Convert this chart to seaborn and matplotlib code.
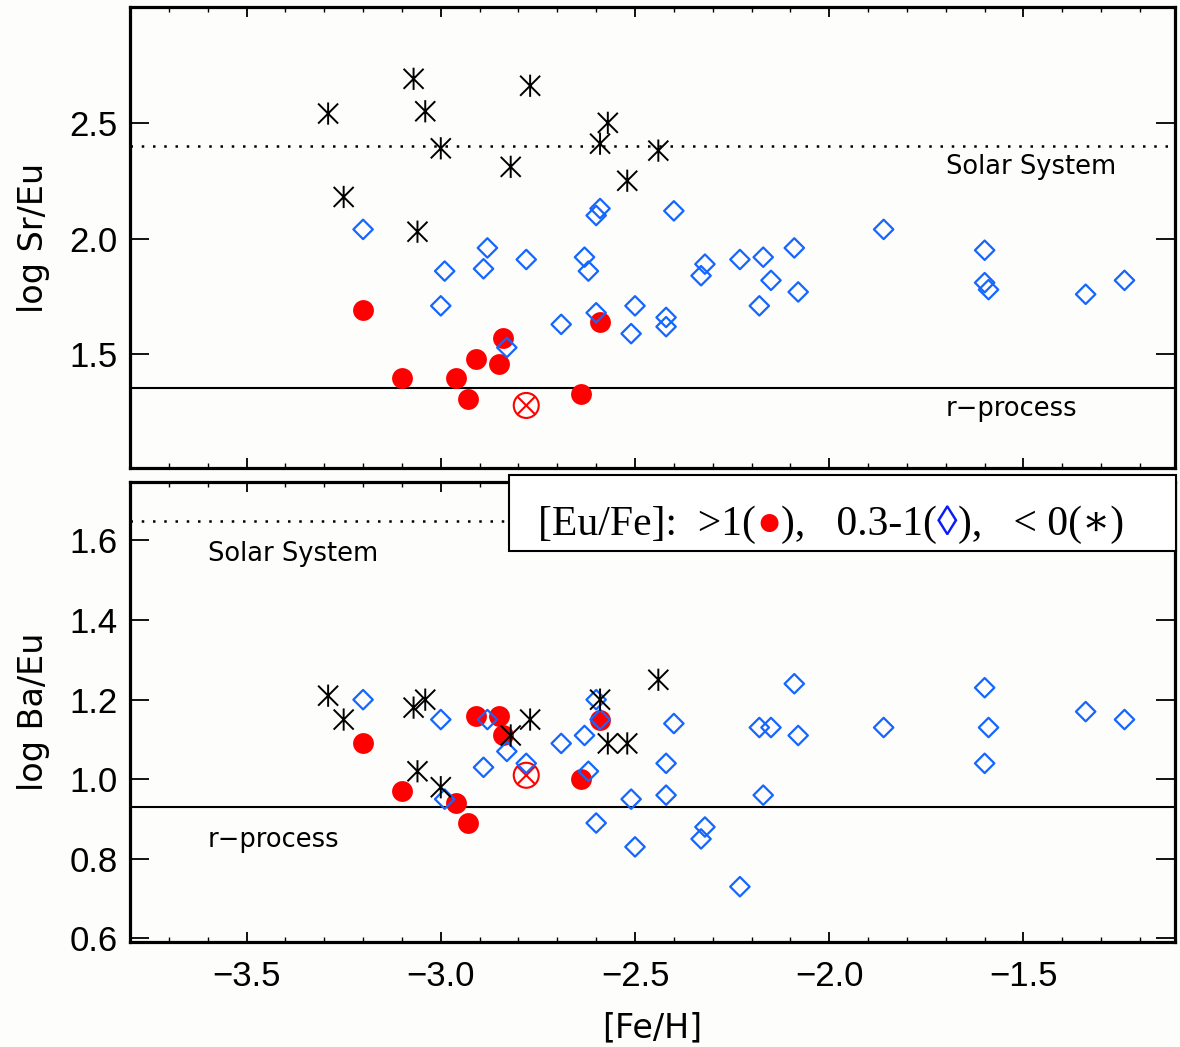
import numpy as np
import pandas as pd
import matplotlib
matplotlib.use("Agg")
import matplotlib.pyplot as plt
import seaborn as sns
from matplotlib.path import Path
from matplotlib.patches import Rectangle
from matplotlib.ticker import MultipleLocator, FixedLocator
from matplotlib.offsetbox import TextArea, HPacker, AnchoredOffsetbox

# ---- top panel: log Sr/Eu vs [Fe/H]
sr_high_feh = [-3.20, -3.10, -2.96, -2.93, -2.91, -2.85, -2.84, -2.64, -2.59]
sr_high = [1.69, 1.40, 1.40, 1.31, 1.48, 1.46, 1.57, 1.33, 1.64]
sr_mid_feh = [-3.20, -2.99, -3.00, -2.88, -2.89, -2.78, -2.83, -2.69, -2.63, -2.62, -2.60,
              -2.60, -2.59, -2.40, -2.50, -2.51, -2.42, -2.42, -2.32, -2.33, -2.23, -2.17,
              -2.15, -2.18, -2.09, -2.08, -1.86, -1.60, -1.60, -1.59, -1.34, -1.24]
sr_mid = [2.04, 1.86, 1.71, 1.96, 1.87, 1.91, 1.53, 1.63, 1.92, 1.86, 1.68,
          2.10, 2.13, 2.12, 1.71, 1.59, 1.66, 1.62, 1.89, 1.84, 1.91, 1.92,
          1.82, 1.71, 1.96, 1.77, 2.04, 1.95, 1.81, 1.78, 1.76, 1.82]
sr_low_feh = [-3.29, -3.07, -3.04, -3.00, -2.77, -2.82, -3.25, -3.06, -2.57, -2.59, -2.44, -2.52]
sr_low = [2.54, 2.69, 2.55, 2.39, 2.66, 2.31, 2.18, 2.03, 2.50, 2.41, 2.38, 2.25]
sr_odd_feh = [-2.78]
sr_odd = [1.28]
sr_ticks = [1.5, 2.0, 2.5]
sr_solar = 2.40
sr_rproc = 1.355

# ---- bottom panel: log Ba/Eu vs [Fe/H]
ba_high_feh = [-3.20, -3.10, -2.96, -2.93, -2.91, -2.85, -2.84, -2.64, -2.59]
ba_high = [1.09, 0.97, 0.94, 0.89, 1.16, 1.16, 1.11, 1.00, 1.15]
ba_mid_feh = [-3.20, -3.00, -2.99, -2.88, -2.89, -2.83, -2.78, -2.69, -2.63, -2.62, -2.60,
              -2.60, -2.59, -2.51, -2.50, -2.42, -2.42, -2.40, -2.32, -2.33, -2.23, -2.18,
              -2.15, -2.17, -2.09, -2.08, -1.86, -1.60, -1.59, -1.60, -1.34, -1.24]
ba_mid = [1.20, 1.15, 0.95, 1.15, 1.03, 1.07, 1.04, 1.09, 1.11, 1.02, 1.20,
          0.89, 1.15, 0.95, 0.83, 1.04, 0.96, 1.14, 0.88, 0.85, 0.73, 1.13,
          1.13, 0.96, 1.24, 1.11, 1.13, 1.23, 1.13, 1.04, 1.17, 1.15]
ba_low_feh = [-3.29, -3.25, -3.07, -3.04, -3.06, -3.00, -2.82, -2.77, -2.59, -2.57, -2.52, -2.44]
ba_low = [1.21, 1.15, 1.18, 1.20, 1.02, 0.98, 1.11, 1.15, 1.20, 1.09, 1.09, 1.25]
ba_odd_feh = [-2.78]
ba_odd = [1.01]
ba_ticks = [0.6, 0.8, 1.0, 1.2, 1.4, 1.6]
ba_solar = 1.65
ba_rproc = 0.93

red = "#ff0000"
blue = "#1466ff"
bg = "#fdfdfb"

plt.rcParams["font.family"] = ["Liberation Sans", "DejaVu Sans"]
plt.rcParams["axes.unicode_minus"] = True

# asterisk (vertical bar + X) and the cross for the open circle
star = Path([(0, -1), (0, 1), (-0.9, -0.9), (0.9, 0.9), (-0.9, 0.9), (0.9, -0.9)],
            [Path.MOVETO, Path.LINETO] * 3)
cross = Path([(-1, -1), (1, 1), (-1, 1), (1, -1)], [Path.MOVETO, Path.LINETO] * 2)

fig = plt.figure(figsize=(11.8, 10.47), dpi=100, facecolor=bg)
ax1 = fig.add_axes([130 / 1180, 1 - 468 / 1047, 1045 / 1180, 461 / 1047])
ax2 = fig.add_axes([130 / 1180, 1 - 942 / 1047, 1045 / 1180, 460 / 1047])


def panel(ax, hx, hy, mx, my, lx, ly, ox, oy, solar, rproc, yticks):
    ax.set_facecolor(bg)
    ax.axhline(solar, color="black", lw=1.8, ls=(0, (1, 3.5)), zorder=1)
    ax.axhline(rproc, color="black", lw=1.5, zorder=1)
    sns.scatterplot(x=hx, y=hy, ax=ax, marker="o", s=225, color=red, linewidth=0, zorder=3)
    sns.scatterplot(x=ox, y=oy, ax=ax, marker="o", s=324, facecolor="none",
                    edgecolor=red, linewidth=1.5, zorder=3)
    sns.scatterplot(x=ox, y=oy, ax=ax, marker=cross, s=164, facecolor="none",
                    edgecolor=red, linewidth=1.5, zorder=3)
    sns.scatterplot(x=mx, y=my, ax=ax, marker="D", s=98, facecolor="none",
                    edgecolor=blue, linewidth=1.6, zorder=4)
    sns.scatterplot(x=lx, y=ly, ax=ax, marker=star, s=256, facecolor="none",
                    edgecolor="black", linewidth=1.4, zorder=5)

    ax.set_xlim(-3.8, -1.11)
    ax.xaxis.set_major_locator(MultipleLocator(0.5))
    ax.xaxis.set_minor_locator(MultipleLocator(0.1))
    ax.yaxis.set_major_locator(FixedLocator(yticks))
    ax.tick_params(axis="x", which="major", direction="in", top=True, bottom=True,
                   length=7, width=1.3, labelsize=25, pad=13)
    ax.tick_params(axis="x", which="minor", direction="in", top=True, bottom=True,
                   length=3.5, width=1.0)
    ax.tick_params(axis="y", which="major", direction="in", left=True, right=True,
                   length=14, width=1.3, labelsize=25, pad=9)
    ax.tick_params(axis="y", which="minor", left=False, right=False)
    for s in ax.spines.values():
        s.set_linewidth(2.3)
    ax.set_xlabel("")
    ax.set_ylabel("")


panel(ax1, sr_high_feh, sr_high, sr_mid_feh, sr_mid, sr_low_feh, sr_low,
      sr_odd_feh, sr_odd, sr_solar, sr_rproc, sr_ticks)
panel(ax2, ba_high_feh, ba_high, ba_mid_feh, ba_mid, ba_low_feh, ba_low,
      ba_odd_feh, ba_odd, ba_solar, ba_rproc, ba_ticks)

ax1.set_ylim(1.01, 3.0)
ax1.tick_params(axis="x", labelbottom=False)
ax2.set_ylim(0.591, 1.747)

lab = dict(family="DejaVu Sans", fontsize=24)
ax1.set_ylabel("log Sr/Eu", **lab)
ax1.yaxis.set_label_coords(-0.077, 0.5)
ax2.set_ylabel("log Ba/Eu", **lab)
ax2.yaxis.set_label_coords(-0.077, 0.5)
ax2.set_xlabel("[Fe/H]", **lab)
ax2.xaxis.set_label_coords(0.5, -0.15)

note = dict(family="DejaVu Sans", fontsize=18.5, va="center", ha="left")
ax1.text(-1.70, 2.31, "Solar System", **note)
ax1.text(-1.70, 1.265, "r\u2212process", **note)
ax2.text(-3.60, 1.567, "Solar System", **note)
ax2.text(-3.60, 0.847, "r\u2212process", **note)

# key box spanning the two panels
fig.add_artist(Rectangle((509 / 1180, 1 - 551 / 1047), 667 / 1180, 76 / 1047,
                         transform=fig.transFigure, facecolor="white",
                         edgecolor="black", linewidth=1.5, zorder=5))
serif = ["Liberation Serif", "DejaVu Serif"]
parts = [("[Eu/Fe]:  >1(", "black"), ("\u25cf", red), ("),   0.3-1(", "black"),
         ("\u25ca", "#0a1aff"), ("),   < 0(\u2217)", "black")]
boxes = [TextArea(t, textprops=dict(color=c, family=serif, fontsize=30)) for t, c in parts]
pack = HPacker(children=boxes, align="baseline", pad=0, sep=0)
key = AnchoredOffsetbox(loc="center left", child=pack, pad=0, borderpad=0, frameon=False,
                        bbox_to_anchor=(538 / 1180, 1 - 535 / 1047, 0.5, 20 / 1047),
                        bbox_transform=fig.transFigure)
key.set_zorder(6)
fig.add_artist(key)

fig.savefig("out.png", dpi=100, facecolor=bg)
